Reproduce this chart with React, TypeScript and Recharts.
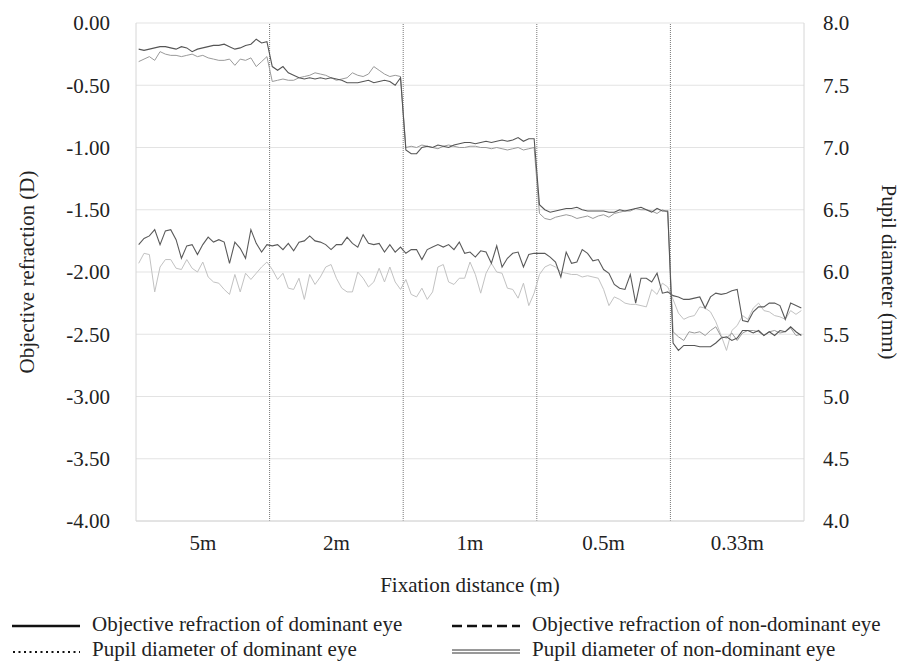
import { LineChart, Line, XAxis, YAxis, CartesianGrid, ReferenceLine } from "recharts";

const FONT = "Liberation Serif, Tinos, Times New Roman, DejaVu Serif, serif";

const DISTANCES = ["5m", "2m", "1m", "0.5m", "0.33m"];
const SAMPLES_PER_DISTANCE = 25;
const REFRACTION_TICKS = [-4, -3.5, -3, -2.5, -2, -1.5, -1, -0.5, 0];
const PUPIL_TICKS = [4, 4.5, 5, 5.5, 6, 6.5, 7, 7.5, 8];

// objective refraction (D), 25 samples per fixation distance
const refractionDominant = [
  -0.21, -0.22, -0.21, -0.2, -0.19, -0.19, -0.2, -0.21, -0.19, -0.2, -0.23, -0.21, -0.2, -0.19, -0.18, -0.18, -0.17, -0.19, -0.21, -0.2, -0.18, -0.17, -0.13, -0.16, -0.15,
  -0.35, -0.38, -0.35, -0.4, -0.42, -0.44, -0.45, -0.44, -0.45, -0.44, -0.45, -0.44, -0.45, -0.46, -0.48, -0.48, -0.48, -0.47, -0.46, -0.48, -0.47, -0.46, -0.47, -0.5, -0.44,
  -1.02, -1.05, -1.05, -1.0, -0.99, -1.0, -0.98, -0.99, -1.0, -0.98, -0.97, -0.96, -0.96, -0.97, -0.96, -0.95, -0.96, -0.95, -0.94, -0.95, -0.94, -0.92, -0.95, -0.93, -0.93,
  -1.46, -1.5, -1.52, -1.51, -1.5, -1.49, -1.49, -1.48, -1.5, -1.51, -1.51, -1.51, -1.51, -1.52, -1.52, -1.5, -1.51, -1.5, -1.49, -1.48, -1.5, -1.52, -1.49, -1.51, -1.51,
  -2.57, -2.63, -2.59, -2.59, -2.59, -2.6, -2.6, -2.6, -2.57, -2.53, -2.52, -2.55, -2.53, -2.47, -2.47, -2.49, -2.47, -2.51, -2.48, -2.51, -2.47, -2.48, -2.44, -2.48, -2.51,
];

const refractionNonDominant = [
  -0.31, -0.29, -0.27, -0.3, -0.23, -0.25, -0.26, -0.26, -0.27, -0.26, -0.25, -0.27, -0.26, -0.28, -0.29, -0.3, -0.3, -0.29, -0.34, -0.29, -0.3, -0.28, -0.35, -0.31, -0.27,
  -0.47, -0.46, -0.45, -0.46, -0.46, -0.44, -0.43, -0.42, -0.4, -0.41, -0.42, -0.44, -0.46, -0.45, -0.44, -0.4, -0.42, -0.43, -0.41, -0.35, -0.38, -0.41, -0.43, -0.42, -0.43,
  -1.0, -0.99, -1.0, -0.98, -0.99, -1.0, -1.01, -0.99, -0.98, -0.99, -1.0, -1.0, -0.99, -0.99, -1.0, -1.0, -1.01, -1.0, -1.01, -1.02, -1.01, -1.0, -1.02, -1.01, -1.0,
  -1.53, -1.57, -1.58, -1.56, -1.55, -1.54, -1.55, -1.57, -1.56, -1.55, -1.57, -1.55, -1.54, -1.56, -1.53, -1.52, -1.51, -1.51, -1.49, -1.5, -1.5, -1.51, -1.53, -1.5, -1.52,
  -2.48, -2.52, -2.55, -2.48, -2.49, -2.48, -2.51, -2.47, -2.44, -2.52, -2.53, -2.49, -2.55, -2.49, -2.47, -2.47, -2.48, -2.51, -2.48, -2.47, -2.49, -2.48, -2.45, -2.51, -2.5,
];

// pupil diameter (mm)
const pupilDominant = [
  6.22, 6.27, 6.29, 6.34, 6.22, 6.33, 6.34, 6.26, 6.11, 6.21, 6.22, 6.14, 6.22, 6.28, 6.24, 6.26, 6.24, 6.07, 6.24, 6.19, 6.11, 6.34, 6.23, 6.16, 6.22,
  6.21, 6.22, 6.18, 6.23, 6.17, 6.24, 6.25, 6.29, 6.25, 6.24, 6.22, 6.18, 6.22, 6.22, 6.28, 6.23, 6.2, 6.3, 6.23, 6.22, 6.23, 6.16, 6.22, 6.16, 6.2,
  6.15, 6.18, 6.18, 6.1, 6.18, 6.2, 6.22, 6.2, 6.22, 6.18, 6.24, 6.15, 6.16, 6.12, 6.17, 6.16, 6.07, 6.21, 6.04, 6.11, 6.15, 6.16, 6.04, 6.14, 6.15,
  6.15, 6.15, 6.12, 6.08, 5.96, 6.16, 6.07, 6.08, 6.18, 6.15, 6.09, 6.1, 6.02, 5.99, 5.9, 5.87, 5.86, 5.98, 5.75, 5.95, 5.95, 5.92, 5.99, 5.83, 5.84,
  5.81, 5.8, 5.78, 5.78, 5.79, 5.8, 5.71, 5.8, 5.83, 5.82, 5.83, 5.85, 5.86, 5.61, 5.6, 5.68, 5.72, 5.72, 5.75, 5.75, 5.73, 5.62, 5.75, 5.73, 5.71,
];

const pupilNonDominant = [
  6.07, 6.15, 6.14, 5.84, 6.04, 6.1, 6.1, 6.03, 6.02, 6.1, 6.03, 6.0, 6.08, 5.96, 5.92, 5.91, 5.86, 5.82, 5.98, 5.84, 5.99, 5.94, 5.99, 6.04, 6.08,
  6.02, 5.94, 5.99, 5.87, 5.86, 5.95, 5.78, 5.98, 5.9, 5.96, 6.04, 6.06, 5.95, 5.87, 5.84, 5.84, 6.0, 5.95, 5.88, 5.92, 6.03, 5.92, 6.04, 5.92, 5.86,
  5.94, 5.82, 5.8, 5.87, 5.78, 5.84, 6.04, 6.06, 5.92, 5.9, 5.95, 5.95, 6.08, 5.98, 5.83, 5.99, 6.07, 6.0, 5.99, 5.87, 5.86, 5.79, 5.91, 5.73, 5.83,
  5.98, 6.04, 6.06, 6.04, 6.0, 5.99, 5.98, 5.98, 5.96, 5.97, 5.96, 5.95, 5.86, 5.73, 5.8, 5.78, 5.75, 5.74, 5.74, 5.73, 5.72, 5.86, 5.82, 5.91, 5.88,
  5.78, 5.67, 5.62, 5.64, 5.65, 5.72, 5.71, 5.68, 5.6, 5.49, 5.37, 5.53, 5.57, 5.65, 5.62, 5.71, 5.75, 5.69, 5.68, 5.65, 5.64, 5.62, 5.69, 5.66, 5.69,
];

const data = refractionDominant.map((v, i) => ({
  sample: i + 0.5,
  rd: v,
  rn: refractionNonDominant[i],
  pd: pupilDominant[i],
  pn: pupilNonDominant[i],
}));

const total = DISTANCES.length * SAMPLES_PER_DISTANCE;
const centers = DISTANCES.map((_, i) => (i + 0.5) * SAMPLES_PER_DISTANCE);
const boundaries = DISTANCES.slice(1).map((_, i) => (i + 1) * SAMPLES_PER_DISTANCE);

const tickStyle = { fill: "#222", fontSize: 21, fontFamily: FONT };
const labelStyle = { fill: "#222", fontSize: 21, fontFamily: FONT, textAnchor: "middle" as const };

const LegendSymbol = ({ kind }: { kind: string }) => (
  <svg width={68} height={25} style={{ marginRight: 12, flexShrink: 0 }}>
    {kind === "solid" && <line x1={0} x2={68} y1={14} y2={14} stroke="#111" strokeWidth={2.5} />}
    {kind === "dashed" && (
      <line x1={0} x2={68} y1={14} y2={14} stroke="#111" strokeWidth={2.5} strokeDasharray="10 5" />
    )}
    {kind === "dotted" && (
      <line x1={1} x2={68} y1={15} y2={15} stroke="#111" strokeWidth={2} strokeDasharray="2 3.5" />
    )}
    {kind === "double" && (
      <g>
        <line x1={0} x2={68} y1={13} y2={13} stroke="#333" strokeWidth={1} />
        <line x1={0} x2={68} y1={16} y2={16} stroke="#333" strokeWidth={1} />
      </g>
    )}
  </svg>
);

const legendItems = [
  { kind: "solid", text: "Objective refraction of dominant eye" },
  { kind: "dashed", text: "Objective refraction of non-dominant eye" },
  { kind: "dotted", text: "Pupil diameter of dominant eye" },
  { kind: "double", text: "Pupil diameter of non-dominant eye" },
];

export default function App() {
  return (
    <div style={{ width: 893, fontFamily: FONT }}>
      <LineChart width={893} height={600} data={data} margin={{ top: 15, right: 0, bottom: 11, left: 0 }}>
        <CartesianGrid vertical={false} stroke="#e3e3e3" yAxisId="left" />
        <XAxis
          type="number"
          dataKey="sample"
          domain={[0, total]}
          ticks={centers}
          tickFormatter={(v: number) => DISTANCES[Math.floor(v / SAMPLES_PER_DISTANCE)]}
          tickLine={false}
          tickSize={0}
          tickMargin={14}
          axisLine={{ stroke: "#d6d6d6" }}
          tick={tickStyle}
          height={76}
          label={{ value: "Fixation distance (m)", position: "insideBottom", offset: 5, style: labelStyle }}
        />
        <YAxis
          yAxisId="left"
          domain={[-4, 0]}
          ticks={REFRACTION_TICKS}
          tickFormatter={(v: number) => v.toFixed(2)}
          tickLine={false}
          tickSize={0}
          tickMargin={26}
          axisLine={{ stroke: "#d6d6d6" }}
          tick={tickStyle}
          width={128}
          label={{ value: "Objective refraction (D)", angle: -90, position: "insideLeft", offset: 19, style: labelStyle }}
        />
        <YAxis
          yAxisId="right"
          orientation="right"
          domain={[4, 8]}
          ticks={PUPIL_TICKS}
          tickFormatter={(v: number) => v.toFixed(1)}
          tickLine={false}
          tickSize={0}
          tickMargin={19}
          axisLine={{ stroke: "#d6d6d6" }}
          tick={{ ...tickStyle, textAnchor: "start" }}
          width={97}
          label={{ value: "Pupil diameter (mm)", angle: 90, position: "insideRight", offset: 12, style: labelStyle }}
        />
        {boundaries.map((b) => (
          <ReferenceLine key={b} x={b} yAxisId="left" stroke="#777" strokeDasharray="1 1" />
        ))}
        <Line yAxisId="right" dataKey="pn" stroke="#c2c2c2" strokeWidth={1} dot={false} isAnimationActive={false} />
        <Line yAxisId="right" dataKey="pd" stroke="#5a5a5a" strokeWidth={1.1} dot={false} isAnimationActive={false} />
        <Line yAxisId="left" dataKey="rn" stroke="#9a9a9a" strokeWidth={1} dot={false} isAnimationActive={false} />
        <Line yAxisId="left" dataKey="rd" stroke="#555" strokeWidth={1.1} dot={false} isAnimationActive={false} />
      </LineChart>
      <div
        style={{
          display: "grid",
          gridTemplateColumns: "440px 440px",
          paddingTop: 4,
          paddingLeft: 4,
          fontSize: 21,
          lineHeight: "25px",
          color: "#222",
        }}
      >
        {legendItems.map((item) => (
          <div key={item.text} style={{ display: "flex", alignItems: "center", whiteSpace: "nowrap" }}>
            <LegendSymbol kind={item.kind} />
            <span>{item.text}</span>
          </div>
        ))}
      </div>
    </div>
  );
}
